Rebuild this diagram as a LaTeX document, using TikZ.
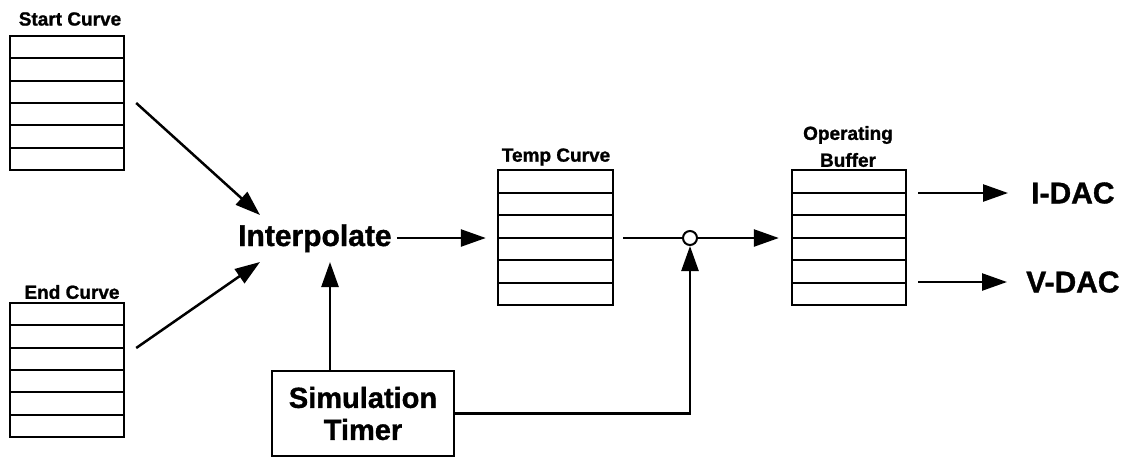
\documentclass[tikz,border=0pt]{standalone}
\usepackage{fontspec}
\setmainfont{Liberation Sans}[BoldFeatures={FakeBold=1.2}]
\usetikzlibrary{arrows.meta,calc}
\tikzset{
  stackbox/.style={draw, line width=2.4pt, minimum width=114pt, minimum height=134pt, inner sep=0pt,
    path picture={\foreach \i in {1,...,5}{\draw[line width=2pt] ($(path picture bounding box.north west)!\i/6!(path picture bounding box.south west)$) -- ($(path picture bounding box.north east)!\i/6!(path picture bounding box.south east)$);}}},
  lbl/.style={font=\bfseries\fontsize{19}{21}\selectfont, inner sep=0pt},
  big/.style={font=\bfseries\fontsize{30}{32}\selectfont, inner sep=0pt},
  arr/.style={line width=2.5pt, -{Triangle[length=25pt,width=17pt]}},
  ln/.style={line width=2.5pt},
}
\begin{document}
\begin{tikzpicture}[x=1pt,y=-1pt]
\useasboundingbox (0,0) rectangle (1131,458);
% stacks
\node[stackbox] (sc) at (67,103) {};
\node[stackbox] (ec) at (67,370) {};
\node[stackbox, minimum width=115pt, minimum height=135pt] (tc) at (555.5,237.5) {};
\node[stackbox, minimum width=114pt, minimum height=135pt] (ob) at (849,237.5) {};
% labels
\node[lbl] (scl) at (70,19) {Start Curve};
\node[lbl] (ecl) at (72,292) {End Curve};
\node[lbl] (tcl) at (556,157) {Temp Curve};
\node[lbl] (obl1) at (848,135) {Operating};
\node[lbl] (obl2) at (848,160) {Buffer};
% interpolate
\node[big, anchor=base west] (ip) at (238,246) {Interpolate};
% junction
\node[draw, circle, line width=2pt, minimum size=14pt, inner sep=0pt] (j) at (690,238) {};
% timer
\node[draw, line width=2.5pt, minimum width=182pt, minimum height=85pt, inner sep=0pt, align=center,
      font=\bfseries\fontsize{29}{32}\selectfont] (tm) at (363,413.5) {Simulation\\Timer};
% DAC labels
\node[big, anchor=west] (idac) at (1031,193) {I-DAC};
\node[big, anchor=west] (vdac) at (1026,282) {V-DAC};
% coordinates at Interpolate
\coordinate (in1) at (260,215);
\coordinate (in2) at (260,262);
\coordinate (in3) at (330,262);
% connectors
\draw[arr] ($(sc.east)+(11,0)$) -- (in1);
\draw[arr] ($(ec.east)+(11,-22)$) -- (in2);
\draw[arr] (tm.north -| in3) -- (in3);
\draw[arr] ($(ip.east |- j)+(5,0)$) -- ($(tc.west |- j)+(-11,0)$);
\draw[ln] ($(tc.east |- j)+(9,0)$) -- (j.west);
\draw[arr] (j.east) -- ($(ob.west |- j)+(-12,0)$);
\draw[arr] (tm.east) -| (j.south);
\draw[arr] ($(ob.east |- idac.west)+(11,0)$) -- ($(idac.west)+(-23,0)$);
\draw[arr] ($(ob.east |- vdac.west)+(11,0)$) -- ($(vdac.west)+(-19,0)$);
\end{tikzpicture}
\end{document}
